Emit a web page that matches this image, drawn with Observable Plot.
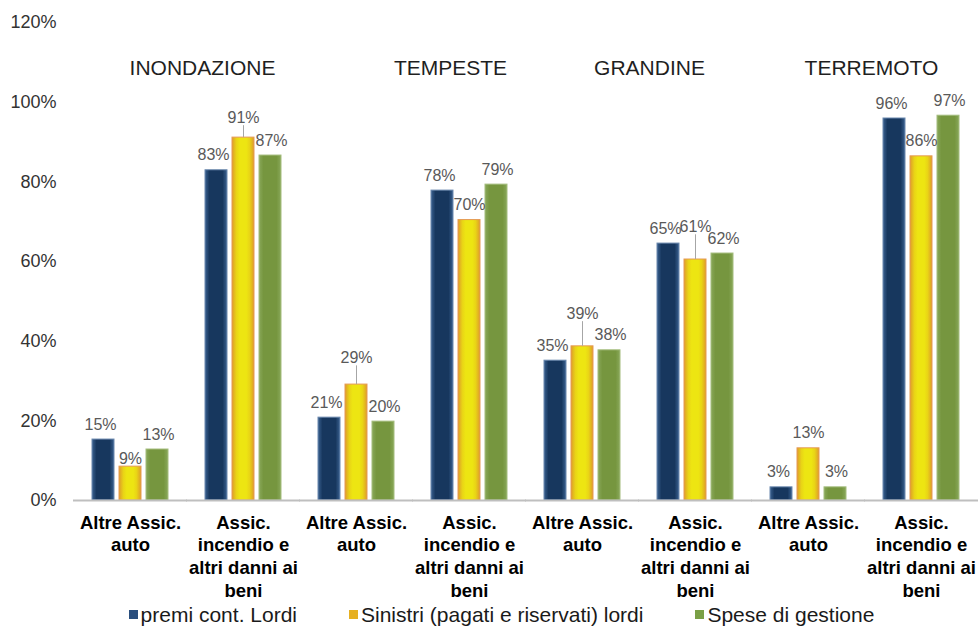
<!DOCTYPE html>
<html>
<head>
<meta charset="utf-8">
<script src="https://cdn.jsdelivr.net/npm/d3@7"></script>
<script src="https://cdn.jsdelivr.net/npm/@observablehq/plot@0.6"></script>
<style>
  html, body { margin: 0; padding: 0; background: #fff; }
  body { width: 979px; font-family: "Liberation Sans", Arial, sans-serif; }
  #legend { display: flex; justify-content: center; gap: 52px; height: 26px; line-height: 20px;
            padding-top: 3px; box-sizing: border-box;
            font-size: 21px; color: #1a1a1a; padding-left: 24px; }
  #legend .item { display: flex; align-items: center; white-space: nowrap; }
  #legend .sw { width: 9px; height: 9px; margin-right: 3px; display: inline-block; }
</style>
</head>
<body>
<div id="chart"></div>
<div id="legend"></div>
<script>
// ---- data ----
const groupLabels = [
  "Altre Assic.\nauto", "Assic.\nincendio e\naltri danni ai\nbeni",
  "Altre Assic.\nauto", "Assic.\nincendio e\naltri danni ai\nbeni",
  "Altre Assic.\nauto", "Assic.\nincendio e\naltri danni ai\nbeni",
  "Altre Assic.\nauto", "Assic.\nincendio e\naltri danni ai\nbeni"
];
const hazards = ["INONDAZIONE", "TEMPESTE", "GRANDINE", "TERREMOTO"];
const series = ["premi cont. Lordi", "Sinistri (pagati e riservati) lordi", "Spese di gestione"];
const premi    = [15.3, 82.9, 20.8, 77.8, 35.1, 64.5, 3.3, 95.9];
const sinistri = [8.5, 91.1, 29.1, 70.4, 38.7, 60.5, 13.1, 86.4];
const spese    = [12.8, 86.6, 19.8, 79.3, 37.7, 62.0, 3.3, 96.6];
const yTicks = [0, 20, 40, 60, 80, 100, 120];

// ---- layout tweaks (label placement, not data) ----
const sinistriLift = [-1.8, 1.3, 3.0, 0, 4.5, 4.5, 0, 0];   // extra label lift, in % units
const titleDx = [72, 94, 67, 63];
const labelDx = [-3, 0, 1];

const valuesBySeries = [premi, sinistri, spese];
const rows = [];
groupLabels.forEach((_, g) => {
  series.forEach((s, k) => {
    rows.push({g, series: s, value: valuesBySeries[k][g], lift: k === 1 ? sinistriLift[g] : 0});
  });
});

const fills = ["url(#gBlue)", "url(#gYellow)", "url(#gGreen)"];
const strokes = ["#6A88AE", "#E59A55", "#A3BC7C"];

const marks = [];
series.forEach((s, k) => {
  marks.push(Plot.barY(rows.filter(d => d.series === s), {
    fx: "g", x: "series", y: "value", fill: fills[k], stroke: strokes[k], strokeWidth: 1
  }));
});
marks.push(Plot.ruleY([0], {stroke: "#BFBFBF", strokeWidth: 2, insetLeft: -16, insetRight: -16}));
marks.push(Plot.ruleX(rows.filter(d => d.lift > 0), {
  fx: "g", x: "series", y1: "value", y2: d => d.value + d.lift + 1.7, stroke: "#A6A6A6", strokeWidth: 1
}));
series.forEach((s, k) => {
  marks.push(Plot.text(rows.filter(d => d.series === s), {
    fx: "g", x: "series", y: d => d.value + d.lift, text: d => Math.round(d.value) + "%",
    dy: -15, dx: labelDx[k], fontSize: 16, fill: "#595959"
  }));
});
hazards.forEach((h, i) => {
  marks.push(Plot.text([h], {fx: [2 * i], y: [108.4], text: d => d, dx: titleDx[i],
    fontSize: 21, fill: "#1f1f1f"}));
});
marks.push(Plot.axisY({ticks: yTicks, tickFormat: d => d + "%", tickSize: 0, tickPadding: 33,
  fontSize: 18, fill: "#333"}));
marks.push(Plot.axisFx({anchor: "bottom", tickSize: 0, tickPadding: 12, tickFormat: i => groupLabels[i],
  fontSize: 18.5, fontWeight: "bold", lineHeight: 1.23, fill: "#000"}));

const svg = Plot.plot({
  width: 979, height: 600,
  marginLeft: 73, marginRight: 0, marginTop: 22, marginBottom: 100,
  style: {fontFamily: "'Liberation Sans', Arial, sans-serif", background: "#fff", overflow: "visible"},
  fx: {domain: d3.range(8), paddingInner: 0.27, paddingOuter: 0.135, label: null},
  x: {domain: series, paddingInner: 0.2, paddingOuter: 0.1, axis: null, label: null},
  y: {domain: [0, 120], axis: null, label: null},
  marks
});

d3.select(svg).insert("defs", ":first-child").html(`
  <linearGradient id="gBlue" x1="0" x2="1" y1="0" y2="0">
    <stop offset="0" stop-color="#3A6190"/><stop offset="0.2" stop-color="#17375E"/>
    <stop offset="0.8" stop-color="#17375E"/><stop offset="1" stop-color="#3A6190"/>
  </linearGradient>
  <linearGradient id="gYellow" x1="0" x2="1" y1="0" y2="0">
    <stop offset="0" stop-color="#DE9C2A"/><stop offset="0.2" stop-color="#E9D416"/>
    <stop offset="0.35" stop-color="#EDE512"/><stop offset="0.65" stop-color="#EDE512"/>
    <stop offset="0.8" stop-color="#E9D416"/><stop offset="1" stop-color="#DE9C2A"/>
  </linearGradient>
  <linearGradient id="gGreen" x1="0" x2="1" y1="0" y2="0">
    <stop offset="0" stop-color="#89A85A"/><stop offset="0.2" stop-color="#76963F"/>
    <stop offset="0.8" stop-color="#76963F"/><stop offset="1" stop-color="#89A85A"/>
  </linearGradient>`);

document.getElementById("chart").appendChild(svg);

const legendColors = ["#2A4F7E", "#E6B022", "#7AA046"];
const legend = document.getElementById("legend");
series.forEach((s, k) => {
  const item = document.createElement("span");
  item.className = "item";
  const sw = document.createElement("span");
  sw.className = "sw";
  sw.style.background = legendColors[k];
  item.appendChild(sw);
  item.appendChild(document.createTextNode(s));
  legend.appendChild(item);
});
</script>
</body>
</html>
